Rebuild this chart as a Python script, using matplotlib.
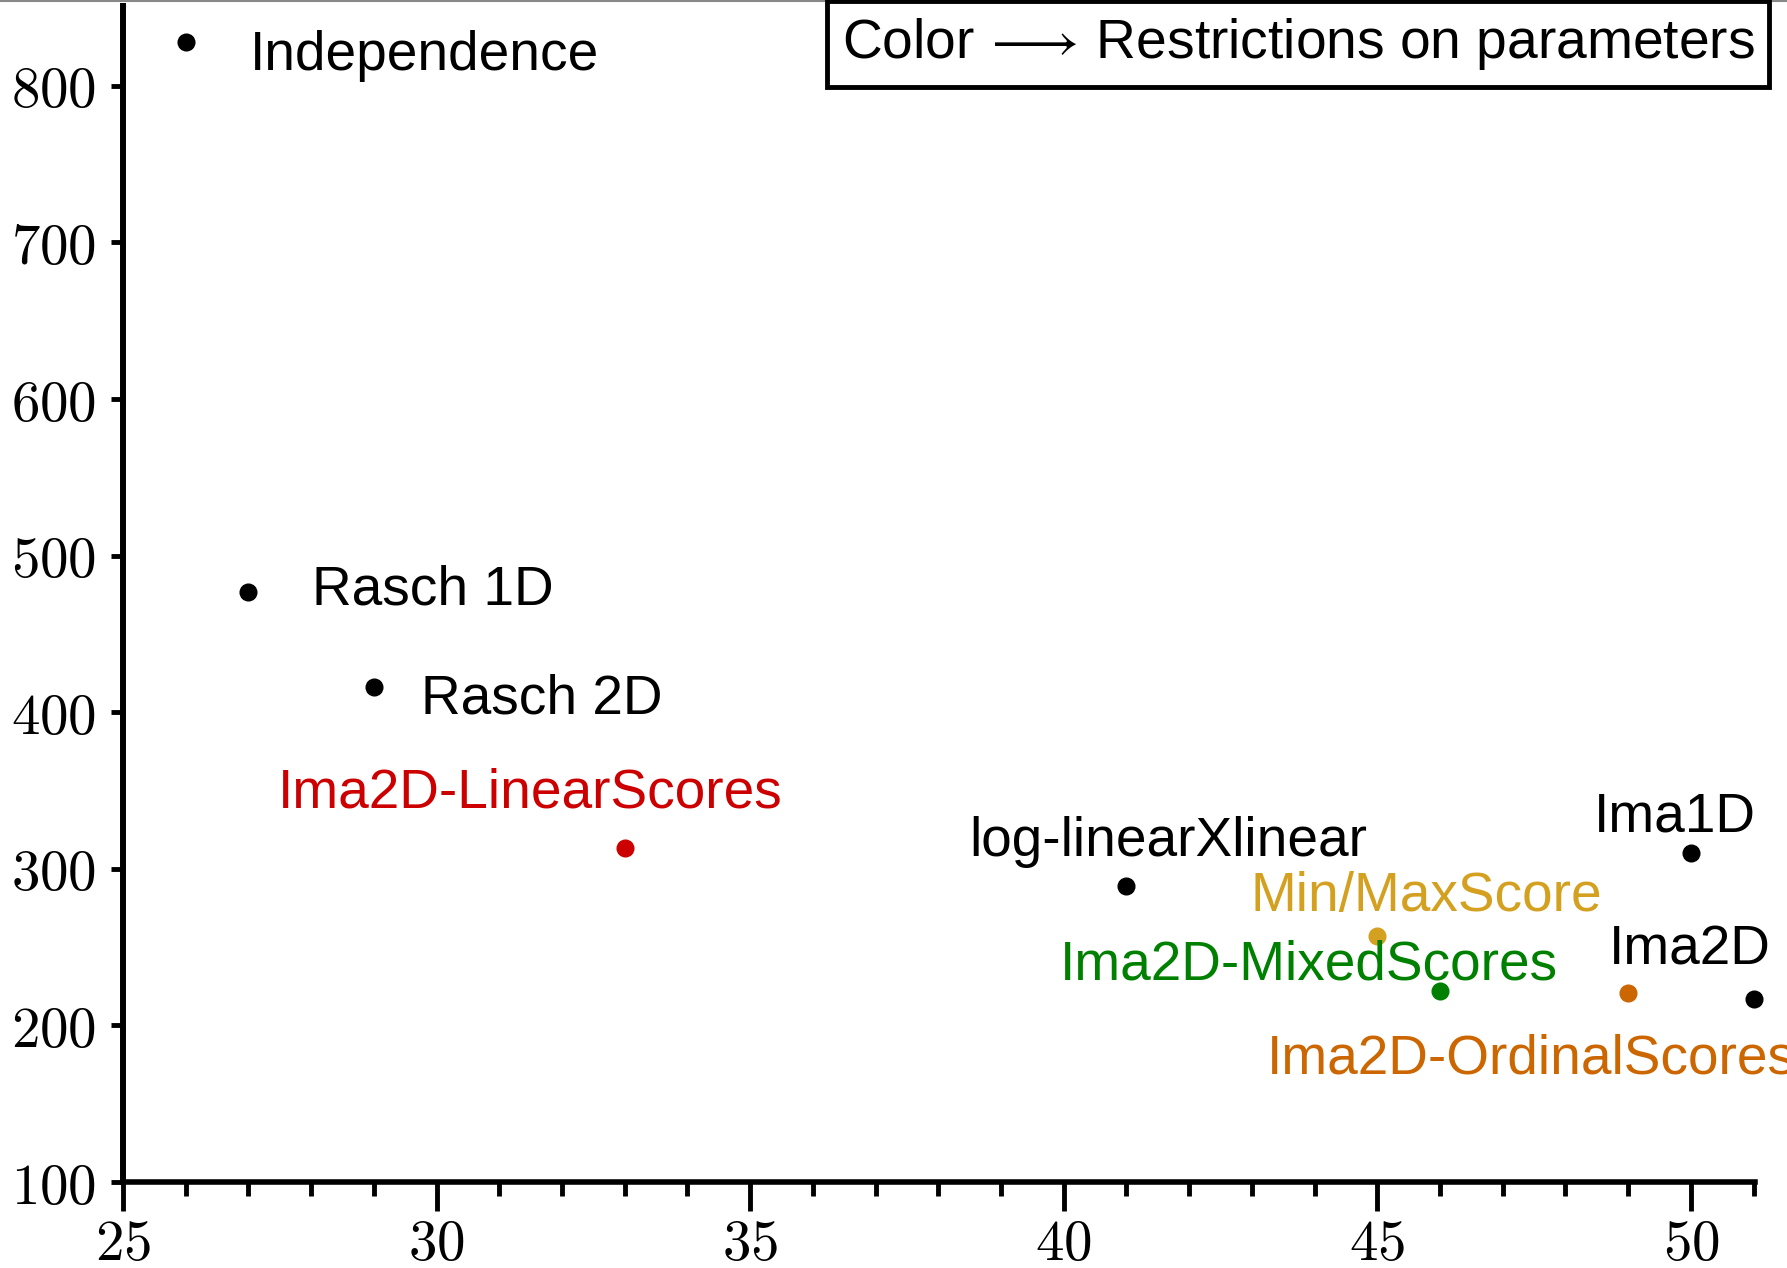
import matplotlib
matplotlib.use("Agg")
import matplotlib.pyplot as plt
from matplotlib.lines import Line2D
from matplotlib.ticker import MultipleLocator, FuncFormatter

# modelos: (df, G2) e posicao dos rotulos
modelos = ["Independence", "Rasch 1D", "Rasch 2D", "Ima2D-LinearScores",
           "log-linearXlinear", "Min/MaxScore", "Ima2D-MixedScores",
           "Ima2D-OrdinalScores", "Ima1D", "Ima2D"]
gl = [26, 27, 29, 33, 41, 45, 46, 49, 50, 51]
g2 = [828, 477, 416, 313, 289, 257, 222, 221, 310, 217]
cores = ["black", "black", "black", "#CC0000", "black", "#D4A020",
         "#008000", "#CC6600", "black", "black"]
rot_x = [27.02, 28.02, 29.76, 31.49, 41.66, 45.78, 43.91, 43.24, 49.75, 49.98]
rot_y = [819, 478, 408, 348, 317, 282, 238, 178, 333, 248]
rot_ha = ["left", "left", "left", "center", "center", "center", "center",
          "left", "center", "center"]

plt.rcParams["mathtext.fontset"] = "cm"

fig = plt.figure(figsize=(17.87, 12.68), dpi=100)
ax = fig.add_axes([0.0688, 0.0678, 0.9132, 0.9275])

for x, y, c in zip(gl, g2, cores):
    ax.plot(x, y, "o", color=c, markersize=12, clip_on=False, zorder=3)

for nome, x, y, ha, c in zip(modelos, rot_x, rot_y, rot_ha, cores):
    ax.text(x, y, nome, ha=ha, va="center", color=c, fontsize=39.6,
            family="Liberation Sans", clip_on=False)

ax.set_xlim(25, 51.02)
ax.set_ylim(100, 851)

ax.spines["top"].set_visible(False)
ax.spines["right"].set_visible(False)
ax.spines["left"].set_linewidth(4.3)
ax.spines["bottom"].set_linewidth(4)

ax.xaxis.set_major_locator(MultipleLocator(5))
ax.xaxis.set_minor_locator(MultipleLocator(1))
ax.yaxis.set_major_locator(MultipleLocator(100))
ax.tick_params(axis="x", which="major", direction="out", length=21, width=3.5, pad=4)
ax.tick_params(axis="x", which="minor", direction="out", length=10, width=3.5)
ax.tick_params(axis="y", which="major", direction="out", length=9, width=3.5, pad=10)

fmt = FuncFormatter(lambda v, p: r"$%d$" % v)
ax.xaxis.set_major_formatter(fmt)
ax.yaxis.set_major_formatter(fmt)
for lab in ax.get_xticklabels() + ax.get_yticklabels():
    lab.set_fontsize(41)

# caixa com a legenda de cores
fig.text(0.7264, 0.9655, r"Color$\,\longrightarrow\,$Restrictions on parameters",
         ha="center", va="center", fontsize=39.7, family="Liberation Sans",
         bbox=dict(boxstyle="square,pad=0.27", facecolor="white",
                   edgecolor="black", linewidth=3.5))

# linha fina no topo da figura
fig.add_artist(Line2D([0, 1], [0.999, 0.999], transform=fig.transFigure,
                      color="#888888", linewidth=1.5))

fig.savefig("out.png", dpi=100)
